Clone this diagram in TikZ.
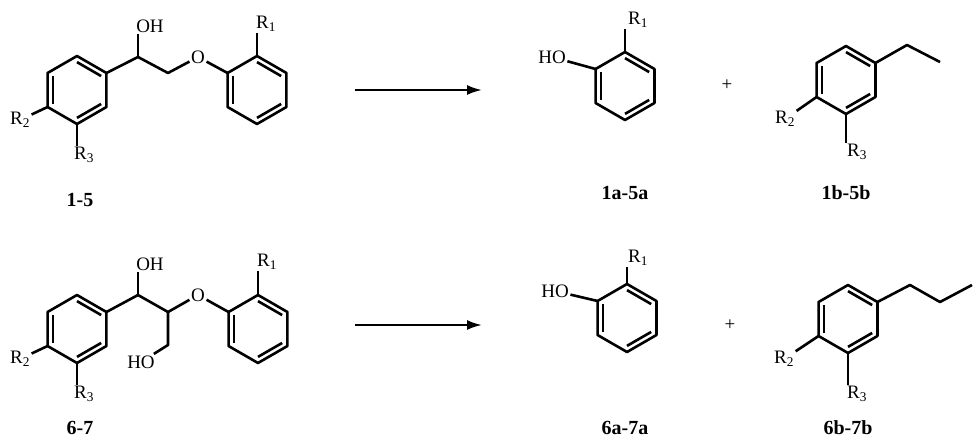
\documentclass[tikz,border=0pt]{standalone}
\usepackage{fontspec}
\setmainfont{Liberation Serif}
\usetikzlibrary{calc,arrows.meta}
\def\atomfont{\fontsize{19}{22}\selectfont}
\def\cmpdfont{\fontsize{20}{22}\selectfont\bfseries}
\tikzset{bond/.style={line width=2.6pt,line join=round},
  atom/.style={inner sep=1.5pt,execute at begin node=\atomfont},
  cmpd/.style={execute at begin node=\cmpdfont}}
\def\ring#1#2{
  \coordinate (#1) at #2;
  \foreach \ang/\v in {-90/t,-30/ur,30/lr,90/b,150/ll,210/ul}
    \coordinate (#1-\v) at ($(#1)+(\ang:34)$);
  \draw[bond] (#1-t)--(#1-ur)--(#1-lr)--(#1-b)--(#1-ll)--(#1-ul)--cycle;
  \draw[bond] ($(#1-ll)!.18!(#1)$)--($(#1-ul)!.18!(#1)$);
  \draw[bond] ($(#1-t)!.18!(#1)$)--($(#1-ur)!.18!(#1)$);
  \draw[bond] ($(#1-lr)!.18!(#1)$)--($(#1-b)!.18!(#1)$);
}
\def\Rsub#1{R\textsubscript{#1}}
\begin{document}
\begin{tikzpicture}[x=1pt,y=-1pt]
  \useasboundingbox (0,0) rectangle (976,439);
  % top reaction: 1-5
  \ring{a}{(77,90)}
  \ring{b}{(257,90)}
  \coordinate (c1) at (138,57);
  \coordinate (c2) at (168,73);
  \node[atom] (oh1) at (150,26) {OH};
  \node[atom] (o1) at (198,57) {O};
  \node[atom] (r1a) at (266,24) {\Rsub1};
  \node[atom] (r2a) at (20,120) {\Rsub2};
  \node[atom] (r3a) at (84,155) {\Rsub3};
  \draw[bond] (a-ur) -- (c1) -- (c2) -- (o1) -- (b-ul);
  \draw[bond] (c1) -- (c1 |- oh1.south);
  \draw[bond] (b-t) -- (b-t |- r1a.south);
  \draw[bond] (a-ll) -- (r2a);
  \draw[bond] (a-b) -- (a-b |- r3a.north);
  \node[cmpd] (n15) at (80,200) {1-5};
  \coordinate (ar1s) at (355,90);
  \coordinate (ar1e) at (482,90);
  \draw[line width=2.2pt,-{Latex[length=15pt,width=10pt]}] (ar1s) -- (ar1e);
  \ring{p}{(625,86)}
  \node[atom] (hop) at (552,57) {HO};
  \node[atom] (r1p) at (638,20) {\Rsub1};
  \draw[bond] (p-ul) -- (hop);
  \draw[bond] (p-t) -- (p-t |- r1p.south);
  \node[atom] (plus1) at (727,85) {+};
  \ring{q}{(846,80)}
  \coordinate (e1) at (907,45);
  \coordinate (e2) at (940,62);
  \draw[bond] (q-ur) -- (e1) -- (e2);
  \node[atom] (r2q) at (785,119) {\Rsub2};
  \node[atom] (r3q) at (857,152) {\Rsub3};
  \draw[bond] (q-ll) -- (r2q);
  \draw[bond] (q-b) -- (q-b |- r3q.north);
  \node[cmpd] (n1a) at (625,193) {1a-5a};
  \node[cmpd] (n1b) at (846,193) {1b-5b};
  % bottom reaction: 6-7
  \ring{c}{(77,329)}
  \ring{d}{(258,329)}
  \coordinate (c3) at (138,295);
  \coordinate (c4) at (168,312);
  \coordinate (c5) at (168,345);
  \node[atom] (oh2) at (150,264) {OH};
  \node[atom] (o2) at (198,295) {O};
  \node[atom] (ho2) at (141,362) {HO};
  \node[atom] (r1c) at (267,262) {\Rsub1};
  \node[atom] (r2c) at (20,359) {\Rsub2};
  \node[atom] (r3c) at (84,394) {\Rsub3};
  \draw[bond] (c-ur) -- (c3) -- (c4) -- (o2) -- (d-ul);
  \draw[bond] (c4) -- (c5) -- (ho2);
  \draw[bond] (c3) -- (c3 |- oh2.south);
  \draw[bond] (d-t) -- (d-t |- r1c.south);
  \draw[bond] (c-ll) -- (r2c);
  \draw[bond] (c-b) -- (c-b |- r3c.north);
  \node[cmpd] (n67) at (80,428) {6-7};
  \coordinate (ar2s) at (355,325);
  \coordinate (ar2e) at (482,325);
  \draw[line width=2.2pt,-{Latex[length=15pt,width=10pt]}] (ar2s) -- (ar2e);
  \ring{s}{(627,318)}
  \node[atom] (hos) at (555,291) {HO};
  \node[atom] (r1s) at (638,258) {\Rsub1};
  \draw[bond] (s-ul) -- (hos);
  \draw[bond] (s-t) -- (s-t |- r1s.south);
  \node[atom] (plus2) at (730,325) {+};
  \ring{u}{(848,319)}
  \coordinate (p1) at (910,285);
  \coordinate (p2) at (940,302);
  \coordinate (p3) at (972,285);
  \draw[bond] (u-ur) -- (p1) -- (p2) -- (p3);
  \node[atom] (r2u) at (784,359) {\Rsub2};
  \node[atom] (r3u) at (857,394) {\Rsub3};
  \draw[bond] (u-ll) -- (r2u);
  \draw[bond] (u-b) -- (u-b |- r3u.north);
  \node[cmpd] (n6a) at (625,428) {6a-7a};
  \node[cmpd] (n6b) at (848,428) {6b-7b};
\end{tikzpicture}
\end{document}
